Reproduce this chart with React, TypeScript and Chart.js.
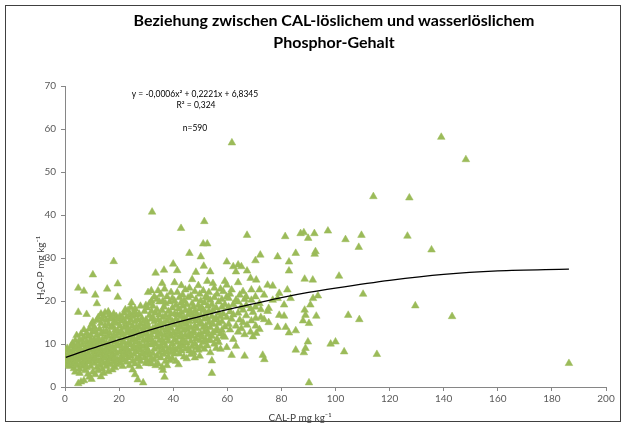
import React, { useEffect, useRef } from "react";
import { Chart, registerables } from "chart.js";

Chart.register(...registerables);

const titleLines = ["Beziehung zwischen CAL-löslichem und wasserlöslichem", "Phosphor-Gehalt"];
const equationLines = ["y = -0,0006x² + 0,2221x + 6,8345", "R² = 0,324"];
const sampleLabel = "n=590";
const xAxisTitle = "CAL-P mg kg⁻¹";
const yAxisTitle = "H₂O-P mg kg⁻¹";

const xTickStep = 20;
const yTickStep = 10;

// columns of readings: [CAL-P, [H2O-P values...]]
const band0to10: [number, number[]][] = [
  [0.3, [5.5, 7, 8.5]],
  [0.8, [6.2, 9]],
  [1.2, [5, 7.5]],
  [1.8, [4.8, 6.8, 8.2]],
  [2.3, [6, 7.2, 9.5]],
  [2.8, [5.2, 8, 10.2]],
  [3.3, [4.3, 6.5, 7.8, 9]],
  [3.8, [3.5, 5.8, 8.8, 10.8]],
  [4.3, [5, 7, 9.5, 12]],
  [4.9, [0.8, 6.2, 8.2, 10, 17.4, 23]],
  [5.4, [3.2, 4.2, 7.5, 9, 11]],
  [5.9, [1.2, 5.5, 6.8, 8.5, 12.3]],
  [6.4, [4.8, 7.2, 9.8, 10.8]],
  [7.0, [1.5, 6, 8, 11.5, 13.3, 22.3]],
  [7.5, [3.8, 5.2, 7, 9.2]],
  [8.0, [4.5, 6.5, 8.8, 10.5, 12.5, 16.9]],
  [8.5, [3, 5.8, 7.8, 9.5, 11.8]],
  [9.0, [2.3, 6, 7, 10, 13.5]],
  [9.5, [4.8, 8.5, 9.3, 11, 12]],
  [9.8, [1.8, 6.5, 10.5, 14.5]],
];

const band10to20: [number, number[]][] = [
  [10.3, [3.5, 7.2, 9.8, 12.8, 15.2, 26.1]],
  [10.8, [5.5, 6.4, 8.2, 11, 14]],
  [11.2, [2.9, 6.8, 8.8, 10.2, 13, 21.4]],
  [11.8, [4.5, 7.5, 9.5, 12, 15.5, 19.4]],
  [12.3, [3.8, 6, 8.5, 11.2, 16.2]],
  [12.8, [5, 7.8, 9, 10.5, 13.5]],
  [13.3, [2.4, 6.2, 9.2, 12.4, 14.8, 17]],
  [13.8, [4.2, 7, 8, 11, 15.8]],
  [14.3, [3.2, 5.5, 9.8, 12.8, 16.5]],
  [14.8, [6.8, 8.5, 11.5, 14.2, 17.3]],
  [15.3, [4.8, 7.5, 10.2, 13, 15.5]],
  [15.6, [6, 9, 22.8]],
  [16.0, [3.6, 5.5, 8.2, 11.8, 14.5, 17.5]],
  [16.5, [6.5, 9.5, 12.5, 15.8, 16.8]],
  [17.0, [5.2, 7, 8, 10.8, 13.8]],
  [17.5, [4, 7.5, 9.2, 11.2, 14.2, 16]],
  [18.0, [5.8, 9, 12, 15, 17, 29.2]],
  [18.5, [4.5, 6.8, 8.5, 10.5, 13.2]],
  [19.0, [5.2, 7.8, 9.6, 11.8, 14.8, 16.4]],
  [19.5, [6.3, 10, 13, 15.8, 20.9, 24]],
];

const band20to30: [number, number[]][] = [
  [20.3, [5.5, 8.2, 11, 12.5, 14.2, 16.5]],
  [20.8, [6.2, 7, 9.5, 13, 15.4]],
  [21.3, [4.8, 8.8, 10.4, 12, 16]],
  [21.8, [6.4, 8, 10.5, 13.8, 17.2]],
  [22.3, [7.5, 9.2, 11.5, 15, 18]],
  [22.8, [5.8, 9, 12.6, 14, 16.2]],
  [23.3, [6.8, 8.5, 10.2, 13.5, 17.8]],
  [23.8, [5, 8, 11.6, 14.8, 16.8]],
  [24.3, [7.2, 9.8, 13, 15.6, 18.5]],
  [24.6, [10.8, 12, 19.6]],
  [25.0, [4, 6, 8.8, 14.2, 16.4]],
  [25.5, [7.6, 9.5, 11.2, 13.2, 17.4]],
  [25.9, [2.9, 5.4, 12.4, 15.2, 18.2]],
  [26.4, [6.5, 8.2, 10.5, 14, 16.8]],
  [26.9, [1.7, 9.2, 11.4, 12.8, 15.6]],
  [27.4, [4.8, 7, 10, 13.8, 17]],
  [27.9, [6, 8.6, 11.8, 14.6, 18.8]],
  [28.4, [7.6, 9.4, 12.2, 16]],
  [28.9, [1, 8, 10.8, 13.5, 15.2]],
  [29.4, [6.8, 9.6, 12.6, 14, 17.6]],
  [29.9, [5.5, 7.8, 11, 15.6, 19]],
];

const band30to40: [number, number[]][] = [
  [30.3, [6.2, 9, 12.4, 15, 18.4]],
  [30.7, [8.4, 10, 11.4, 14.2, 22]],
  [31.2, [5.5, 7.4, 13.2, 16.6, 19.4]],
  [31.9, [6.6, 9.8, 12, 15.8, 22.4]],
  [32.0, [5.4, 11, 17.6, 20]],
  [32.5, [7.8, 10.4, 13.6, 16.2, 18.8]],
  [33.0, [6.4, 8.8, 12.8, 15.2, 21]],
  [33.5, [5, 10, 14, 17.2, 26.5]],
  [34.0, [7.2, 11.6, 13, 18, 20.4]],
  [34.4, [5.4, 9.2, 12.2, 15.6, 22.4]],
  [34.9, [8, 10.8, 14.4, 16.8, 19.8]],
  [35.4, [6.8, 9.6, 12.4, 15, 21.5]],
  [35.9, [4.6, 11, 13.6, 17.8, 24.1]],
  [36.2, [3.9, 8.6, 16.2, 20]],
  [36.6, [7.6, 10.2, 14.8, 18.6, 27.2]],
  [36.8, [2.3, 12, 22.8]],
  [37.2, [6, 9.4, 13.2, 16.6, 19.4]],
  [37.7, [5, 8.2, 11.4, 15.4, 21]],
  [38.2, [7, 10.6, 12.8, 14, 17.6]],
  [38.7, [6.2, 9, 12.2, 16, 19.8]],
  [39.2, [8, 11.8, 13.6, 17, 22]],
  [39.7, [6.6, 10, 15.2, 18.4, 20.6]],
];

const band40to50: [number, number[]][] = [
  [40.0, [9, 12.6, 28.6]],
  [40.5, [7.7, 11, 14.4, 17, 20, 24.3]],
  [41.0, [6, 8.6, 12, 15.8, 19]],
  [41.5, [10.4, 13.4, 16.8, 22, 27.1]],
  [42.0, [5.2, 9.2, 12.8, 15, 18.2]],
  [42.3, [7.7, 11.6, 14, 20.8]],
  [42.9, [10, 13.8, 16.4, 19.6]],
  [43.0, [8.4, 12.2, 17.4, 23.6]],
  [43.5, [9.6, 11, 15, 18.8, 21.4]],
  [44.0, [7, 10.6, 13.2, 16, 20]],
  [44.5, [8.8, 12, 14.6, 17.8, 22.6]],
  [45.0, [6.6, 10.2, 13.4, 15.6, 19.2]],
  [45.5, [9, 11.6, 14, 16.8, 20.8]],
  [46.0, [8.4, 12.4, 15.2, 18, 23, 31.1]],
  [46.5, [7.6, 10.6, 13.8, 17.2, 21.2]],
  [47.0, [9.4, 11.8, 15.8, 19.4, 25]],
  [47.5, [8, 12.6, 13, 16.4, 18.6]],
  [48.0, [6.8, 10, 14.2, 17.6, 22.2]],
  [48.4, [11.2, 15.4, 20.4, 26.7]],
  [48.8, [9.2, 13.6, 17]],
  [49.3, [8.6, 12, 16, 19, 23.6]],
  [49.8, [7.2, 10.8, 14.8, 18.2, 21.6]],
];

const band50to60: [number, number[]][] = [
  [50.2, [9.4, 12.4, 16.6, 20, 30.3]],
  [50.6, [11.6, 14.6, 18.4]],
  [51.1, [10.4, 13.8, 17.8, 22.4, 33.3]],
  [51.3, [28.1]],
  [51.5, [8.8, 12.8, 15.8, 19.6]],
  [52.0, [11, 14.2, 17.2, 21]],
  [52.6, [9.6, 13, 16, 24.6, 33.3]],
  [52.8, [12.2, 18.8, 20.6]],
  [53.2, [10.8, 15, 17.6, 22]],
  [53.7, [8, 10.9, 13.8, 20.2, 26.8]],
  [54.3, [3.2, 6.1, 11.8, 16.4, 19.2]],
  [54.7, [12.6, 14.6, 17.8, 24.1]],
  [55.2, [10, 15.6, 20.8, 23]],
  [55.9, [9, 13, 16, 18.4]],
  [56.2, [11.2, 13.6, 21.6]],
  [56.8, [10.4, 14.8, 17.2, 19.8]],
  [57.5, [8.8, 12.4, 16.4, 22.8]],
  [58.0, [13.2, 15.2, 18.6, 20.4]],
  [58.5, [11.8, 17, 22.2]],
  [59.1, [11.6, 14, 19.2, 24.6]],
  [59.8, [9.2, 16.2, 21, 23.7, 29.1]],
];

const band60to80: [number, number[]][] = [
  [60.5, [14.6, 18.6, 20.6]],
  [61.0, [13.3, 17.5, 21.6]],
  [61.6, [7.4, 15.8, 22.6]],
  [62.2, [11.1, 16.8, 19.2, 28]],
  [63.2, [9.5, 14.2, 20.2, 26.8]],
  [64.0, [12.8, 17.2, 19.8, 24.3, 28.4]],
  [64.6, [15.6, 21.4]],
  [65.2, [13.6, 18.6, 28]],
  [65.8, [15, 17.9, 22.2]],
  [66.4, [7.2, 12.2, 20.4]],
  [67.0, [16.6, 19, 21]],
  [67.3, [14.4, 27, 35.3]],
  [68.6, [12.8, 18.2, 25.3]],
  [68.9, [15.4, 20.2, 22.6]],
  [69.5, [11.7, 17.4]],
  [70.4, [18.6, 21, 29.4]],
  [70.5, [14.2, 16]],
  [70.7, [12.5, 24.9]],
  [71.9, [13.4, 19.4, 22.6]],
  [72.2, [30.7]],
  [72.4, [16.2, 18]],
  [73.1, [7.4]],
  [73.6, [15.7, 21.4]],
  [73.7, [6.4]],
  [74.9, [17.6, 23.7]],
  [75.3, [15, 18.3]],
  [76.8, [20.2, 23.5]],
  [78.6, [13.9, 20.6, 30.3]],
  [79.2, [16.7, 21.8]],
];

const band80plus: [number, number[]][] = [
  [81.0, [16.5, 19.1]],
  [81.4, [35]],
  [81.6, [13.9]],
  [82.2, [22.6]],
  [82.8, [12.6, 27, 29.1]],
  [83.4, [20.6]],
  [85.3, [8.6, 13.1, 31.1]],
  [87.1, [35.7]],
  [88.0, [15.4]],
  [88.3, [8, 35.9]],
  [88.6, [17.9, 25.1]],
  [88.9, [9, 16.7]],
  [89.8, [10.5]],
  [89.9, [34.6]],
  [90.2, [1, 14.8]],
  [90.7, [19.1]],
  [91.6, [24.9]],
  [91.7, [20.6]],
  [92.2, [35.7]],
  [92.3, [30.9]],
  [92.6, [31.5]],
  [92.9, [16.5]],
  [93.5, [21.2]],
  [97.2, [36.3]],
  [98.2, [10]],
  [100.0, [10.5]],
  [101.3, [25.8]],
  [103.2, [8.2]],
  [103.7, [34.3]],
  [104.7, [16.7]],
  [108.6, [32.5]],
  [108.8, [15.7]],
  [109.6, [35.3]],
  [110.2, [21.6]],
  [114.0, [44.3]],
  [115.3, [7.6]],
  [126.6, [35.1]],
  [127.3, [44]],
  [129.5, [18.9]],
  [135.5, [31.9]],
  [139.1, [58.1]],
  [143.1, [16.4]],
  [148.2, [52.9]],
  [186.3, [5.5]],
];

const highOutliers: [number, number[]][] = [
  [32.2, [40.7]],
  [42.9, [36.9]],
  [51.5, [38.5]],
  [61.7, [56.8]],
];

// polynomial trendline as drawn
const trendX = [0.3, 10, 20, 30, 40, 50, 60, 70, 80, 90, 100, 120, 140, 160, 186.3];
const trendY = [6.9, 9.0, 11.0, 13.0, 14.8, 16.4, 18.0, 19.4, 20.8, 22.0, 23.0, 24.8, 26.2, 27.0, 27.4];

const FONT = "Lato, 'Open Sans', sans-serif";

function toPoints(cols: [number, number[]][]) {
  return cols.flatMap(([x, ys]) => ys.map((y) => ({ x, y })));
}

const decorPlugin = {
  id: "decor",
  afterDraw(chart: any) {
    const ctx = chart.ctx as CanvasRenderingContext2D;
    ctx.save();
    ctx.strokeStyle = "#404040";
    ctx.lineWidth = 1;
    ctx.strokeRect(5.5, 5.5, 615, 416);

    ctx.textAlign = "center";
    ctx.textBaseline = "middle";
    ctx.fillStyle = "#000000";
    ctx.font = `bold 16px ${FONT}`;
    ctx.fillText(titleLines[0], 334, 21);
    ctx.fillText(titleLines[1], 334, 43);

    ctx.font = `8.5px ${FONT}`;
    ctx.fillStyle = "#000000";
    ctx.fillText(equationLines[0], 195, 94);
    ctx.fillText(equationLines[1], 196, 105);
    ctx.fillText(sampleLabel, 195, 128);

    ctx.font = `10px ${FONT}`;
    ctx.fillStyle = "#404040";
    ctx.fillText(xAxisTitle, 300, 418);
    ctx.translate(41, 268);
    ctx.rotate(-Math.PI / 2);
    ctx.fillText(yAxisTitle, 0, 0);
    ctx.restore();
  },
};

export default function App() {
  const ref = useRef<HTMLCanvasElement | null>(null);
  useEffect(() => {
    if (!ref.current) return;
    const points = [
      ...toPoints(band0to10),
      ...toPoints(band10to20),
      ...toPoints(band20to30),
      ...toPoints(band30to40),
      ...toPoints(band40to50),
      ...toPoints(band50to60),
      ...toPoints(band60to80),
      ...toPoints(band80plus),
      ...toPoints(highOutliers),
    ];
    const trend = trendX.map((x, i) => ({ x, y: trendY[i] }));
    const tickFont = { family: FONT, size: 10 };
    const chart = new Chart(ref.current, {
      type: "scatter",
      data: {
        datasets: [
          {
            label: "Trend",
            data: trend,
            showLine: true,
            borderColor: "#000000",
            borderWidth: 1.3,
            pointRadius: 0,
            cubicInterpolationMode: "monotone",
            order: 0,
          } as any,
          {
            label: "H2O-P",
            data: points,
            pointStyle: "triangle",
            pointRadius: 4.4,
            pointBackgroundColor: "#9BBB59",
            pointBorderColor: "#9BBB59",
            pointBorderWidth: 0.5,
            showLine: false,
            order: 1,
          } as any,
        ],
      },
      options: {
        responsive: false,
        animation: false,
        devicePixelRatio: 1,
        events: [],
        layout: { padding: { left: 0, right: 20, top: 86, bottom: 0 } },
        plugins: {
          legend: { display: false },
          title: { display: false },
          tooltip: { enabled: false },
        },
        scales: {
          x: {
            type: "linear",
            min: 0,
            max: 200,
            ticks: { stepSize: xTickStep, color: "#595959", font: tickFont, padding: 2, maxRotation: 0 },
            grid: { display: true, drawOnChartArea: false, drawTicks: true, tickLength: 4, color: "#868686" },
            border: { display: true, color: "#868686" },
            afterFit(scale: any) {
              scale.height = 40;
            },
          },
          y: {
            type: "linear",
            min: 0,
            max: 70,
            ticks: { stepSize: yTickStep, color: "#595959", font: tickFont, padding: 5 },
            grid: { display: true, drawOnChartArea: false, drawTicks: true, tickLength: 4, color: "#868686" },
            border: { display: true, color: "#868686" },
            afterFit(scale: any) {
              scale.width = 65;
            },
          },
        },
      },
      plugins: [decorPlugin],
    });
    return () => chart.destroy();
  }, []);
  return (
    <div style={{ position: "absolute", left: 0, top: 0, width: 626, height: 427, background: "#fff" }}>
      <canvas ref={ref} width={626} height={427} style={{ display: "block" }} />
    </div>
  );
}
